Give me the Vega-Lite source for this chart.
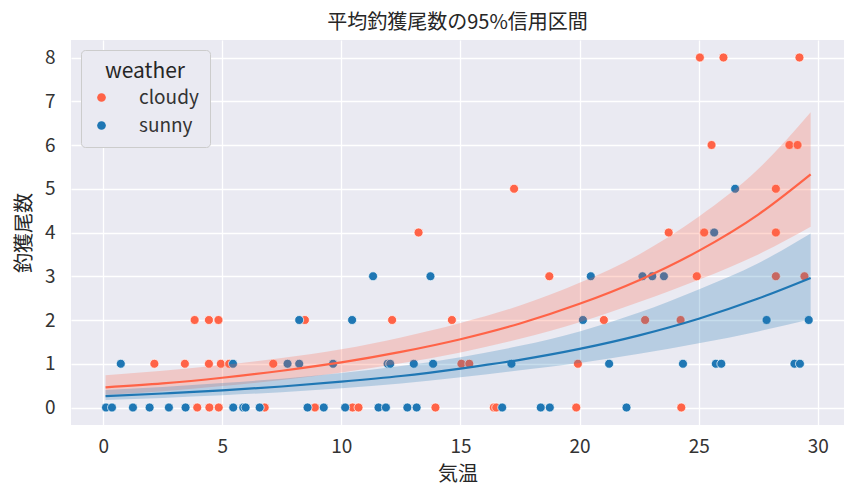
{
  "$schema": "https://vega.github.io/schema/vega-lite/v6.json",
  "autosize": {"type": "none"},
  "padding": {"left": 71, "top": 40, "right": 12, "bottom": 76},
  "width": 773,
  "height": 385,
  "background": "white",
  "title": {
    "text": "平均釣獲尾数の95%信用区間",
    "fontSize": 20,
    "fontWeight": "normal",
    "color": "#262626",
    "offset": 7
  },
  "config": {
    "font": "Noto Sans CJK JP",
    "view": {"fill": "#eaeaf2", "stroke": null},
    "axis": {
      "domain": false,
      "ticks": false,
      "gridColor": "white",
      "gridWidth": 1.3,
      "labelFontSize": 19,
      "labelColor": "#333333",
      "titleFontSize": 20,
      "titleFontWeight": "normal",
      "titleColor": "#262626"
    },
    "legend": {
      "orient": "top-left",
      "offset": 10,
      "fillColor": "#eaeaf2",
      "strokeColor": "#cccccc",
      "cornerRadius": 4,
      "padding": 11,
      "titleFontSize": 21,
      "titleFontWeight": "normal",
      "titleColor": "#262626",
      "titleAnchor": "middle",
      "titlePadding": 6,
      "labelFontSize": 19,
      "labelColor": "#333333",
      "labelOffset": 28,
      "rowPadding": 8,
      "symbolType": "circle",
      "symbolSize": 75,
      "symbolStrokeWidth": 0
    }
  },
  "resolve": {"legend": {"color": "independent"}},
  "datasets": {
    "pts": [
      {"weather": "cloudy", "temp": 25.05, "count": 8},
      {"weather": "cloudy", "temp": 26.04, "count": 8},
      {"weather": "cloudy", "temp": 29.23, "count": 8},
      {"weather": "cloudy", "temp": 25.54, "count": 6},
      {"weather": "cloudy", "temp": 28.81, "count": 6},
      {"weather": "cloudy", "temp": 29.15, "count": 6},
      {"weather": "cloudy", "temp": 17.25, "count": 5},
      {"weather": "cloudy", "temp": 28.24, "count": 5},
      {"weather": "cloudy", "temp": 13.24, "count": 4},
      {"weather": "cloudy", "temp": 23.74, "count": 4},
      {"weather": "cloudy", "temp": 25.23, "count": 4},
      {"weather": "cloudy", "temp": 28.24, "count": 4},
      {"weather": "cloudy", "temp": 18.73, "count": 3},
      {"weather": "cloudy", "temp": 24.92, "count": 3},
      {"weather": "cloudy", "temp": 28.24, "count": 3},
      {"weather": "cloudy", "temp": 29.44, "count": 3},
      {"weather": "cloudy", "temp": 3.84, "count": 2},
      {"weather": "cloudy", "temp": 4.44, "count": 2},
      {"weather": "cloudy", "temp": 4.84, "count": 2},
      {"weather": "cloudy", "temp": 8.47, "count": 2},
      {"weather": "cloudy", "temp": 12.13, "count": 2},
      {"weather": "cloudy", "temp": 14.64, "count": 2},
      {"weather": "cloudy", "temp": 21.02, "count": 2},
      {"weather": "cloudy", "temp": 22.75, "count": 2},
      {"weather": "cloudy", "temp": 24.24, "count": 2},
      {"weather": "cloudy", "temp": 2.15, "count": 1},
      {"weather": "cloudy", "temp": 3.43, "count": 1},
      {"weather": "cloudy", "temp": 4.44, "count": 1},
      {"weather": "cloudy", "temp": 4.94, "count": 1},
      {"weather": "cloudy", "temp": 5.29, "count": 1},
      {"weather": "cloudy", "temp": 7.14, "count": 1},
      {"weather": "cloudy", "temp": 15.04, "count": 1},
      {"weather": "cloudy", "temp": 15.37, "count": 1},
      {"weather": "cloudy", "temp": 19.93, "count": 1},
      {"weather": "cloudy", "temp": 3.95, "count": 0},
      {"weather": "cloudy", "temp": 4.46, "count": 0},
      {"weather": "cloudy", "temp": 4.85, "count": 0},
      {"weather": "cloudy", "temp": 6.78, "count": 0},
      {"weather": "cloudy", "temp": 8.89, "count": 0},
      {"weather": "cloudy", "temp": 10.47, "count": 0},
      {"weather": "cloudy", "temp": 10.72, "count": 0},
      {"weather": "cloudy", "temp": 13.95, "count": 0},
      {"weather": "cloudy", "temp": 16.4, "count": 0},
      {"weather": "cloudy", "temp": 16.5, "count": 0},
      {"weather": "cloudy", "temp": 19.86, "count": 0},
      {"weather": "cloudy", "temp": 24.27, "count": 0},
      {"weather": "sunny", "temp": 26.53, "count": 5},
      {"weather": "sunny", "temp": 25.65, "count": 4},
      {"weather": "sunny", "temp": 11.33, "count": 3},
      {"weather": "sunny", "temp": 13.74, "count": 3},
      {"weather": "sunny", "temp": 20.47, "count": 3},
      {"weather": "sunny", "temp": 22.64, "count": 3},
      {"weather": "sunny", "temp": 23.05, "count": 3},
      {"weather": "sunny", "temp": 23.54, "count": 3},
      {"weather": "sunny", "temp": 8.23, "count": 2},
      {"weather": "sunny", "temp": 10.45, "count": 2},
      {"weather": "sunny", "temp": 20.14, "count": 2},
      {"weather": "sunny", "temp": 27.85, "count": 2},
      {"weather": "sunny", "temp": 29.62, "count": 2},
      {"weather": "sunny", "temp": 0.74, "count": 1},
      {"weather": "sunny", "temp": 5.45, "count": 1},
      {"weather": "sunny", "temp": 7.74, "count": 1},
      {"weather": "sunny", "temp": 8.23, "count": 1},
      {"weather": "sunny", "temp": 9.65, "count": 1},
      {"weather": "sunny", "temp": 11.94, "count": 1},
      {"weather": "sunny", "temp": 12.05, "count": 1},
      {"weather": "sunny", "temp": 13.04, "count": 1},
      {"weather": "sunny", "temp": 13.85, "count": 1},
      {"weather": "sunny", "temp": 17.14, "count": 1},
      {"weather": "sunny", "temp": 21.24, "count": 1},
      {"weather": "sunny", "temp": 24.34, "count": 1},
      {"weather": "sunny", "temp": 25.72, "count": 1},
      {"weather": "sunny", "temp": 25.95, "count": 1},
      {"weather": "sunny", "temp": 29.02, "count": 1},
      {"weather": "sunny", "temp": 29.25, "count": 1},
      {"weather": "sunny", "temp": 0.12, "count": 0},
      {"weather": "sunny", "temp": 0.37, "count": 0},
      {"weather": "sunny", "temp": 1.25, "count": 0},
      {"weather": "sunny", "temp": 1.95, "count": 0},
      {"weather": "sunny", "temp": 2.76, "count": 0},
      {"weather": "sunny", "temp": 3.46, "count": 0},
      {"weather": "sunny", "temp": 5.46, "count": 0},
      {"weather": "sunny", "temp": 5.88, "count": 0},
      {"weather": "sunny", "temp": 5.98, "count": 0},
      {"weather": "sunny", "temp": 6.57, "count": 0},
      {"weather": "sunny", "temp": 8.58, "count": 0},
      {"weather": "sunny", "temp": 9.26, "count": 0},
      {"weather": "sunny", "temp": 10.16, "count": 0},
      {"weather": "sunny", "temp": 11.56, "count": 0},
      {"weather": "sunny", "temp": 11.87, "count": 0},
      {"weather": "sunny", "temp": 12.77, "count": 0},
      {"weather": "sunny", "temp": 13.16, "count": 0},
      {"weather": "sunny", "temp": 16.75, "count": 0},
      {"weather": "sunny", "temp": 18.37, "count": 0},
      {"weather": "sunny", "temp": 18.75, "count": 0},
      {"weather": "sunny", "temp": 21.97, "count": 0}
    ],
    "fit": [
      {"weather": "cloudy", "temp": 0.1, "mid": 0.46, "lo": 0.29, "hi": 0.74},
      {"weather": "cloudy", "temp": 2.5, "mid": 0.55, "lo": 0.37, "hi": 0.84},
      {"weather": "cloudy", "temp": 5, "mid": 0.68, "lo": 0.49, "hi": 0.97},
      {"weather": "cloudy", "temp": 7.5, "mid": 0.84, "lo": 0.63, "hi": 1.13},
      {"weather": "cloudy", "temp": 10, "mid": 1.03, "lo": 0.8, "hi": 1.33},
      {"weather": "cloudy", "temp": 12.5, "mid": 1.27, "lo": 1.01, "hi": 1.6},
      {"weather": "cloudy", "temp": 15, "mid": 1.56, "lo": 1.26, "hi": 1.93},
      {"weather": "cloudy", "temp": 17.5, "mid": 1.92, "lo": 1.57, "hi": 2.33},
      {"weather": "cloudy", "temp": 20, "mid": 2.37, "lo": 1.95, "hi": 2.85},
      {"weather": "cloudy", "temp": 22.5, "mid": 2.91, "lo": 2.41, "hi": 3.5},
      {"weather": "cloudy", "temp": 25, "mid": 3.58, "lo": 2.92, "hi": 4.36},
      {"weather": "cloudy", "temp": 27.5, "mid": 4.41, "lo": 3.5, "hi": 5.45},
      {"weather": "cloudy", "temp": 29.7, "mid": 5.33, "lo": 4.13, "hi": 6.75},
      {"weather": "sunny", "temp": 0.1, "mid": 0.26, "lo": 0.17, "hi": 0.4},
      {"weather": "sunny", "temp": 2.5, "mid": 0.32, "lo": 0.22, "hi": 0.47},
      {"weather": "sunny", "temp": 5, "mid": 0.39, "lo": 0.28, "hi": 0.56},
      {"weather": "sunny", "temp": 7.5, "mid": 0.48, "lo": 0.35, "hi": 0.66},
      {"weather": "sunny", "temp": 10, "mid": 0.59, "lo": 0.44, "hi": 0.79},
      {"weather": "sunny", "temp": 12.5, "mid": 0.72, "lo": 0.55, "hi": 0.95},
      {"weather": "sunny", "temp": 15, "mid": 0.89, "lo": 0.69, "hi": 1.15},
      {"weather": "sunny", "temp": 17.5, "mid": 1.09, "lo": 0.85, "hi": 1.41},
      {"weather": "sunny", "temp": 20, "mid": 1.34, "lo": 1.02, "hi": 1.74},
      {"weather": "sunny", "temp": 22.5, "mid": 1.65, "lo": 1.23, "hi": 2.17},
      {"weather": "sunny", "temp": 25, "mid": 2.03, "lo": 1.47, "hi": 2.7},
      {"weather": "sunny", "temp": 27.5, "mid": 2.49, "lo": 1.74, "hi": 3.3},
      {"weather": "sunny", "temp": 29.7, "mid": 2.96, "lo": 2.02, "hi": 3.98}
    ]
  },
  "layer": [
    {
      "data": {"name": "pts"},
      "mark": {"type": "point", "filled": true, "size": 80, "opacity": 1, "stroke": "white", "strokeWidth": 0.7},
      "encoding": {
        "x": {
          "field": "temp",
          "type": "quantitative",
          "title": "気温",
          "scale": {"domain": [-1.35, 31.1], "nice": false, "zero": false},
          "axis": {"values": [0, 5, 10, 15, 20, 25, 30], "labelPadding": 12, "titlePadding": 8}
        },
        "y": {
          "field": "count",
          "type": "quantitative",
          "title": "釣獲尾数",
          "scale": {"domain": [-0.4, 8.4], "nice": false, "zero": false},
          "axis": {"values": [0, 1, 2, 3, 4, 5, 6, 7, 8], "labelPadding": 16, "titlePadding": 10}
        },
        "color": {
          "field": "weather",
          "type": "nominal",
          "title": "weather",
          "scale": {"domain": ["cloudy", "sunny"], "range": ["#ff6347", "#1f77b4"]}
        }
      }
    },
    {
      "data": {"name": "fit"},
      "mark": {"type": "area", "opacity": 0.25, "interpolate": "monotone"},
      "encoding": {
        "x": {"field": "temp", "type": "quantitative"},
        "y": {"field": "lo", "type": "quantitative"},
        "y2": {"field": "hi"},
        "color": {"field": "weather", "type": "nominal", "legend": null}
      }
    },
    {
      "data": {"name": "fit"},
      "mark": {"type": "line", "strokeWidth": 2.2, "interpolate": "monotone"},
      "encoding": {
        "x": {"field": "temp", "type": "quantitative"},
        "y": {"field": "mid", "type": "quantitative"},
        "color": {"field": "weather", "type": "nominal", "legend": null}
      }
    }
  ]
}
